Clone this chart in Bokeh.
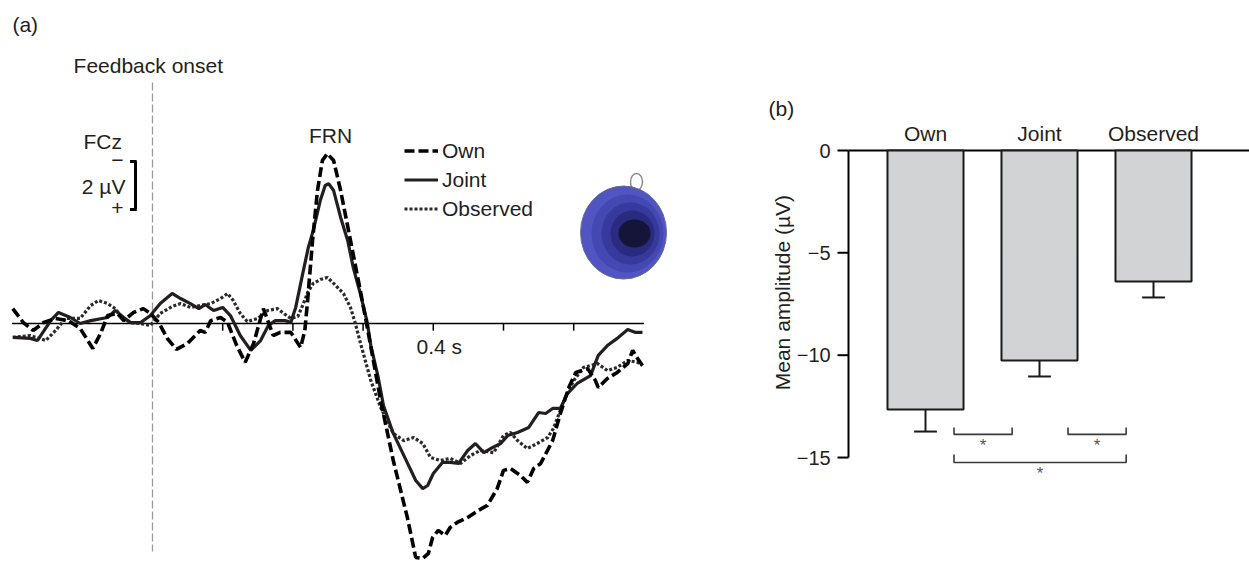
import math
from bokeh.plotting import figure
from bokeh.models import Range1d, Label, Legend, LegendItem
from bokeh.layouts import row
from bokeh.embed import file_html
from bokeh.resources import INLINE
from bokeh.core.properties import value

FONT = "Liberation Sans"
TXT = "#231f20"
FS = "21px"

# ---------------- Panel (a): ERP waveforms at FCz (time in ms, amplitude in µV, negative up)
own_t = [-199, -184, -170, -155, -138, -120, -103, -85, -74, -64, -50, -41, -27, -13, -3, 9, 21, 34, 50, 68,
         75, 83, 97, 107, 120, 132, 144, 158, 172, 182, 197, 211, 217, 221, 228, 235, 242, 249, 258, 268,
         282, 296, 306, 325, 343, 363, 375, 385, 393, 399, 407, 417, 424, 434, 449, 464, 477, 491, 500, 510,
         524, 534, 543, 553, 570, 581, 593, 603, 620, 631, 635, 648, 662, 677, 684, 691, 698]
own_v = [-0.62, -0.04, 0.29, -0.04, -0.21, -0.12, 0.21, 1.04, 0.42, -0.33, -0.42, -0.12, -0.46, -0.62, -0.42, -0.04, 0.62, 1.08, 0.83, 0.29,
         0.37, -0.12, -0.25, -0.04, 0.92, 1.62, 0.83, -0.62, 0.5, 0.37, 0.37, 1.0, 0.29, -0.96, -3.46, -5.54, -6.79, -7.08, -6.79, -5.54,
         -3.46, -1.38, 0.17, 3.21, 5.71, 8.08, 9.75, 9.79, 9.58, 8.92, 8.62, 8.83, 8.5, 8.29, 8.08, 7.79, 7.58, 6.88, 6.12, 6.04,
         6.33, 6.62, 6.04, 5.83, 4.88, 3.75, 2.67, 2.04, 1.88, 2.38, 2.67, 2.29, 2.04, 1.67, 1.12, 1.46, 1.75]

joint_t = [-199, -174, -164, -145, -134, -117, -103, -88, -64, -53, -41, -31, -17, -3, 11, 28, 40, 54, 66, 75,
           87, 100, 111, 125, 140, 154, 165, 175, 189, 197, 204, 214, 222, 229, 239, 246, 251, 258, 268, 278,
           286, 296, 306, 311, 321, 329, 343, 360, 375, 385, 392, 400, 413, 424, 436, 449, 460, 472, 484, 496,
           506, 520, 536, 550, 560, 570, 581, 591, 605, 624, 635, 648, 662, 677, 688, 698]
joint_v = [0.58, 0.62, 0.71, -0.12, -0.46, -0.25, 0.0, -0.12, -0.25, -0.54, -0.25, -0.04, -0.04, -0.33, -0.83, -1.25, -1.04, -0.83, -0.62, -0.79,
           -0.54, -0.67, -0.33, 0.5, 1.12, 0.71, 0.08, -0.12, -0.12, -0.04, -0.67, -2.08, -3.17, -3.88, -5.12, -5.75, -5.83, -5.54, -4.42, -3.46,
           -2.33, -1.25, -0.04, 0.92, 2.17, 3.42, 4.58, 5.62, 6.54, 6.88, 6.75, 6.25, 5.79, 5.79, 5.83, 5.29, 5.0, 5.38, 5.17, 5.0,
           4.67, 4.54, 4.33, 3.71, 3.75, 3.54, 3.54, 2.92, 2.5, 2.17, 1.33, 0.92, 0.62, 0.25, 0.37, 0.37]

obs_t = [-199, -174, -152, -138, -124, -103, -88, -77, -64, -53, -43, -31, -17, -3, 11, 28, 40, 54, 68, 83,
         97, 107, 115, 125, 135, 150, 164, 178, 187, 197, 207, 215, 221, 229, 239, 249, 258, 272, 282, 289,
         296, 311, 325, 343, 358, 372, 385, 396, 410, 424, 439, 453, 467, 486, 500, 510, 520, 534, 548, 563,
         571, 581, 588, 600, 614, 634, 648, 662, 677, 691, 698]
obs_v = [0.58, 0.5, 0.71, 0.29, -0.21, -0.21, -0.75, -0.96, -0.83, -0.62, -0.21, -0.04, 0.0, 0.08, -0.42, -0.71, -0.83, -0.67, -0.75, -0.83,
         -1.04, -1.25, -0.96, -0.42, -0.08, -0.21, -0.54, -0.62, -0.42, -0.21, -0.29, -0.83, -1.29, -1.67, -1.83, -1.92, -1.67, -1.25, -0.67, 0.0,
         0.79, 2.38, 3.5, 4.58, 4.88, 4.75, 5.0, 5.58, 5.71, 5.62, 5.83, 5.5, 5.29, 5.38, 4.67, 4.54, 4.88, 5.21, 5.0, 4.75,
         4.38, 3.62, 3.08, 2.38, 1.83, 1.67, 1.96, 1.83, 1.54, 1.62, 1.75]

series_names = ["Own", "Joint", "Observed"]
erp_span_ms = [-200, 700]
erp_ticks_ms = [100, 200, 300, 400, 500, 600]
scale_bar_uv = [-6.75, -4.75]   # 2 µV calibration bar

# ---------------- Panel (b): mean FRN amplitude
conditions = ["Own", "Joint", "Observed"]
cond_x = [1, 2, 3]
mean_amp = [-12.65, -10.26, -6.40]
sem_amp = [1.08, 0.78, 0.78]
y_ticks_b = [-15, -10, -5, 0]
y_tick_labels_b = ["\u221215", "\u221210", "\u22125", "0"]
# significance brackets (pairs of conditions)
sig_x0 = [1.25, 2.25, 1.25]
sig_x1 = [1.76, 2.76, 2.76]
sig_y = [-13.87, -13.87, -15.24]
sig_tip = [-13.53, -13.53, -14.85]
sig_label = ["*", "*", "*"]


def lab(p, x, y, t, align="left", base="middle", size=FS, angle=0.0, color=TXT):
    p.add_layout(Label(x=x, y=y, text=t, text_align=align, text_baseline=base, angle=angle,
                       text_font=FONT, text_font_size=size, text_color=color))


# ======================= Figure A =======================
pA = figure(width=700, height=578,
            x_range=Range1d(-216.52, 780.63), y_range=Range1d(10.625, -13.458),
            x_axis_type=None, y_axis_type=None, toolbar_location=None,
            output_backend="svg", min_border=0)
pA.outline_line_color = None
pA.background_fill_color = "white"
pA.border_fill_color = "white"

# feedback onset line
pA.segment(x0=[0], y0=[-10.04], x1=[0], y1=[9.5], line_color="#9a9a9a", line_width=1.3, line_dash="8 3")

# time axis at 0 µV
pA.segment(x0=[erp_span_ms[0]], y0=[0], x1=[erp_span_ms[1]], y1=[0], line_color="black", line_width=1.5)
pA.segment(x0=erp_ticks_ms, y0=[0] * len(erp_ticks_ms), x1=erp_ticks_ms, y1=[0.3] * len(erp_ticks_ms),
           line_color="black", line_width=1.5)

# topographic map (decoration)
topo_x = [671.0, 676.6, 680.9, 683.8, 686.6]
topo_y = [-3.79, -3.75, -3.75, -3.75, -3.75]
topo_w = [86, 72, 58, 44, 32]
topo_h = [93, 78, 62, 46, 28]
topo_c = ["#5055c2", "#4448b2", "#373a9c", "#292b80", "#15153a"]
pA.ellipse(x=[689.5], y=[-5.9], width=12, height=17, width_units="screen", height_units="screen",
           fill_color=None, line_color="#8a8a8a", line_width=1.5)
pA.ellipse(x=topo_x[:1], y=topo_y[:1], width=topo_w[:1], height=topo_h[:1],
           width_units="screen", height_units="screen", fill_color=topo_c[0],
           line_color="#6a6a8a", line_width=1)
pA.ellipse(x=topo_x[1:], y=topo_y[1:], width=topo_w[1:], height=topo_h[1:],
           width_units="screen", height_units="screen", fill_color=topo_c[1:], line_color=None)

# waveforms
r_obs = pA.line(obs_t, obs_v, line_color="#2a2a2a", line_width=3.2, line_dash="3 2")
r_joint = pA.line(joint_t, joint_v, line_color="#231f20", line_width=3.2)
r_own = pA.line(own_t, own_v, line_color="black", line_width=3.6, line_dash="10 4")

legend = Legend(items=[LegendItem(label=series_names[0], renderers=[r_own]),
                       LegendItem(label=series_names[1], renderers=[r_joint]),
                       LegendItem(label=series_names[2], renderers=[r_obs])],
                location=(404, 355), orientation="vertical",
                glyph_width=34, glyph_height=29, label_height=29, spacing=0,
                padding=0, margin=0, label_standoff=4,
                label_text_font=FONT, label_text_font_size=FS, label_text_color=TXT,
                border_line_color=None, background_fill_alpha=0)
pA.add_layout(legend)

# calibration bar
pA.segment(x0=[-24.2], y0=[scale_bar_uv[0]], x1=[-24.2], y1=[scale_bar_uv[1]], line_color="black", line_width=3)
pA.segment(x0=[-32, -32], y0=scale_bar_uv, x1=[-22.5, -22.5], y1=scale_bar_uv, line_color="black", line_width=3)

lab(pA, -199.5, -12.46, "(a)")
lab(pA, -6, -10.75, "Feedback onset", align="center")
lab(pA, -71, -7.58, "FCz", align="center")
lab(pA, -50, -6.8, "\u2212", align="center")
lab(pA, -38.5, -5.72, "2 \u00b5V", align="right")
lab(pA, -50, -4.83, "+", align="center")
lab(pA, 253.6, -7.83, "FRN", align="center")
lab(pA, 376, 0.95, "0.4 s")

# ======================= Figure B =======================
# frame covers the whole figure: 114 px per condition, 20.47 px per µV
pB = figure(width=549, height=578,
            x_range=Range1d(-0.9737, 3.8421), y_range=Range1d(-20.909, 7.328),
            x_axis_type=None, y_axis_type=None, toolbar_location=None,
            output_backend="svg", min_border=0)
pB.outline_line_color = None
pB.background_fill_color = "white"
pB.border_fill_color = "white"

axis_x = 0.3246        # y-axis position (condition units)
tick_len = 0.0965      # 11 px
# y axis
pB.segment(x0=[axis_x], y0=[y_ticks_b[0]], x1=[axis_x], y1=[y_ticks_b[-1]], line_color="black", line_width=2)
pB.segment(x0=[axis_x - tick_len] * len(y_ticks_b), y0=y_ticks_b, x1=[axis_x] * len(y_ticks_b), y1=y_ticks_b,
           line_color="black", line_width=2)
pB.text(x=[0.168] * len(y_ticks_b), y=y_ticks_b, text=y_tick_labels_b, text_align="right", text_baseline="middle",
        text_font=value(FONT), text_font_size=value("20px"), text_color=TXT)
# zero line (top axis) and condition labels
pB.segment(x0=[axis_x], y0=[0], x1=[3.85], y1=[0], line_color="black", line_width=2)
pB.text(x=cond_x, y=[0.83] * 3, text=conditions, text_align="center", text_baseline="middle",
        text_font=value(FONT), text_font_size=value(FS), text_color=TXT)

pB.vbar(x=cond_x, top=[0] * 3, bottom=mean_amp, width=0.667,
        fill_color="#d1d3d4", line_color="#1a1a1a", line_width=2)

err_lo = [m - s for m, s in zip(mean_amp, sem_amp)]
pB.segment(x0=cond_x, y0=mean_amp, x1=cond_x, y1=err_lo, line_color="#1a1a1a", line_width=2)
pB.segment(x0=[c - 0.1 for c in cond_x], y0=err_lo, x1=[c + 0.1 for c in cond_x], y1=err_lo,
           line_color="#1a1a1a", line_width=2)

bxs = [[a, a, b, b] for a, b in zip(sig_x0, sig_x1)]
bys = [[t, y, y, t] for y, t in zip(sig_y, sig_tip)]
pB.multi_line(xs=bxs, ys=bys, line_color="#3a3a3a", line_width=1.6)
star_x = [(a + b) / 2 for a, b in zip(sig_x0, sig_x1)]
star_y = [y - 0.55 for y in sig_y]
pB.text(x=star_x, y=star_y, text=sig_label, text_align="center", text_baseline="middle",
        text_font=value(FONT), text_font_size=value("17px"), text_color="#555555")

lab(pB, -0.377, 2.05, "(b)")
lab(pB, -0.254, -6.94, "Mean amplitude (\u00b5V)", align="center", angle=math.pi / 2)

layout = row(pA, pB)
open("out.html", "w").write(file_html(layout, INLINE))
